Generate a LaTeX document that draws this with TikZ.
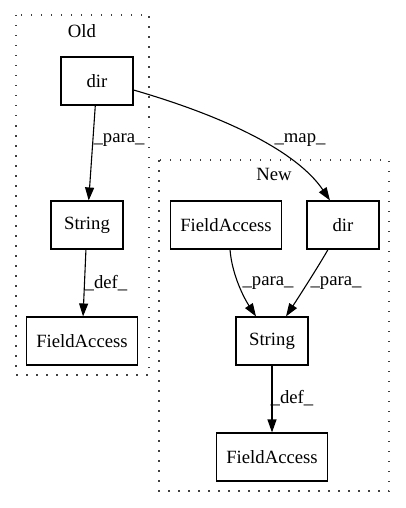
\documentclass[tikz,border=0pt]{standalone}
\usepackage{fontspec}
\setmainfont{Liberation Serif}
\usetikzlibrary{arrows.meta}
\begin{document}
\begin{tikzpicture}[x=1pt,y=-1pt,
  box/.style={draw,line width=1.1pt,inner sep=0pt,minimum height=48pt,font=\fontsize{18.7}{22}\selectfont},
  lbl/.style={inner sep=0pt,font=\fontsize{18.7}{22}\selectfont},
  cluster/.style={draw,line width=1.3pt,dash pattern=on 1.5pt off 8.5pt,black!75},
  edge/.style={draw,line width=1.1pt,-{Triangle[length=13pt,width=9pt]}}]
\useasboundingbox (0,0) rectangle (405,508);
% clusters
\draw[cluster] (16,15) rectangle (149,375);
\node[lbl] (oldlbl) at (82,31) {Old};
\draw[cluster] (159,160) rectangle (389,491);
\node[lbl] (newlbl) at (274,174) {New};
% old nodes
\node[box,minimum width=72pt] (od) at (97,81) {dir};
\node[box,minimum width=72pt] (os) at (87,225) {String};
\node[box,minimum width=111pt] (of) at (82,341) {FieldAccess};
% new nodes
\node[box,minimum width=111pt] (nf) at (226,225) {FieldAccess};
\node[box,minimum width=72pt] (nd) at (343,225) {dir};
\node[box,minimum width=72pt] (ns) at (272,341) {String};
\node[box,minimum width=111pt] (nb) at (272,457) {FieldAccess};
% edges
\draw[edge] (od) -- (os);
\node[lbl] (l1) at (119,140) {\_para\_};
\draw[edge] (os) -- (of);
\node[lbl] (l2) at (106,283) {\_def\_};
\draw[edge] ([yshift=-9pt]od.east) .. controls (230,118) and (298,153) .. ([xshift=-13pt]nd.north);
\node[lbl] (l3) at (300,140) {\_map\_};
\draw[edge] ([xshift=4pt]nf.south) .. controls (232,275) and (244,298) .. ([xshift=-16pt]ns.north);
\node[lbl] (l4) at (268,283) {\_para\_};
\draw[edge] ([xshift=-15pt]nd.south) .. controls (321,262) and (302,292) .. ([xshift=14pt]ns.north);
\node[lbl] (l5) at (336,283) {\_para\_};
\draw[edge] (ns) -- (nb);
\node[lbl] (l6) at (292,398) {\_def\_};
\end{tikzpicture}
\end{document}
